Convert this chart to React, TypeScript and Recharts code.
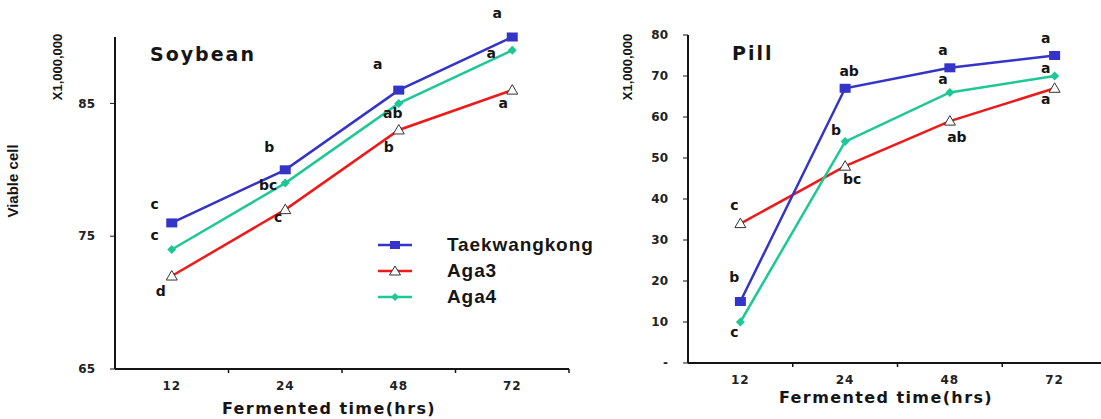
import { LabelList, Legend, Line, LineChart, XAxis, YAxis } from "recharts"

const hours = ["12", "24", "48", "72"]

const soyTaekwangkong = [76, 80, 86, 90]
const soyAga3 = [72, 77, 83, 86]
const soyAga4 = [74, 79, 85, 89]
const soyTaekwangkongSig = ["c", "b", "a", "a"]
const soyAga3Sig = ["d", "c", "b", "a"]
const soyAga4Sig = ["c", "bc", "ab", "a"]
const soyTicks = [65, 75, 85]

const pillTaekwangkong = [15, 67, 72, 75]
const pillAga3 = [34, 48, 59, 67]
const pillAga4 = [10, 54, 66, 70]
const pillTaekwangkongSig = ["b", "ab", "a", "a"]
const pillAga3Sig = ["c", "bc", "ab", "a"]
const pillAga4Sig = ["c", "b", "a", "a"]
const pillTicks = [0, 10, 20, 30, 40, 50, 60, 70, 80]

const seriesNames = ["Taekwangkong", "Aga3", "Aga4"]

const soyData = hours.map((h, i) => ({
  idx: i,
  hour: h,
  taek: soyTaekwangkong[i],
  aga3: soyAga3[i],
  aga4: soyAga4[i],
  taekSig: soyTaekwangkongSig[i],
  aga3Sig: soyAga3Sig[i],
  aga4Sig: soyAga4Sig[i],
}))

const pillData = hours.map((h, i) => ({
  idx: i,
  hour: h,
  taek: pillTaekwangkong[i],
  aga3: pillAga3[i],
  aga4: pillAga4[i],
  taekSig: pillTaekwangkongSig[i],
  aga3Sig: pillAga3Sig[i],
  aga4Sig: pillAga4Sig[i],
}))

// where each significance letter sits relative to its point
const soyOffsets = {
  taek: [[-17, -19], [-16, -23], [-21, -26], [-15, -24]],
  aga3: [[-11, 15], [-7, 7], [-10, 17], [-9, 13]],
  aga4: [[-17, -14], [-17, 2], [-6, 10], [-21, 3]],
}
const pillOffsets = {
  taek: [[-6, -25], [4, -17], [-7, -18], [-9, -18]],
  aga3: [[-6, -19], [7, 13], [7, 16], [-9, 11]],
  aga4: [[-6, 10], [-9, -12], [-7, -13], [-9, -8]],
}

const BLUE = "#3434C8"
const RED = "#F01818"
const GREEN = "#1EC896"
const INK = "#151515"

const halfTicks = [0, 0.5, 1, 1.5, 2, 2.5, 3, 3.5]

const HourTick = (props: any) => {
  const { x, y, payload } = props
  const v = payload.value
  if (Number.isInteger(v)) {
    return (
      <text
        x={x}
        y={y + 21}
        textAnchor="middle"
        fill="#222"
        fontSize={12}
        fontWeight={700}
        fontFamily="DejaVu Sans"
        letterSpacing={1}
      >
        {hours[v]}
      </text>
    )
  }
  return <line x1={x} x2={x} y1={y} y2={y + 4} stroke={INK} strokeWidth={1.5} />
}

const SquareDot = (props: any) => {
  const { cx, cy, index } = props
  return <rect key={index} x={cx - 5.5} y={cy - 4.5} width={11} height={9} fill={BLUE} />
}

const TriangleDot = (props: any) => {
  const { cx, cy, index } = props
  return (
    <polygon
      key={index}
      points={`${cx},${cy - 5.5} ${cx - 5.5},${cy + 4} ${cx + 5.5},${cy + 4}`}
      fill="#fff"
      stroke="#333"
      strokeWidth={1}
    />
  )
}

const DiamondDot = (props: any) => {
  const { cx, cy, index } = props
  return (
    <polygon
      key={index}
      points={`${cx},${cy - 4.5} ${cx + 4.5},${cy} ${cx},${cy + 4.5} ${cx - 4.5},${cy}`}
      fill={GREEN}
    />
  )
}

const sigLabel = (offsets: number[][]) => (props: any) => {
  const { x, y, value, index } = props
  const [dx, dy] = offsets[index]
  return (
    <text
      key={index}
      x={x + dx}
      y={y + dy}
      textAnchor="middle"
      dominantBaseline="central"
      fill={INK}
      fontSize={14}
      fontWeight={700}
      fontFamily="DejaVu Sans"
    >
      {value}
    </text>
  )
}

const LegendBox = () => (
  <div style={{ fontFamily: "Liberation Sans", fontWeight: 700, fontSize: 19, color: INK, letterSpacing: 0.9 }}>
    {seriesNames.map((name, i) => (
      <div key={name} style={{ display: "flex", alignItems: "center", height: 26 }}>
        <svg width={34} height={12} style={{ display: "block" }}>
          <line x1={0} x2={34} y1={6} y2={6} stroke={[BLUE, RED, GREEN][i]} strokeWidth={2.5} />
          {i === 0 && <rect x={12} y={2} width={10} height={8} fill={BLUE} />}
          {i === 1 && <polygon points="17,1 11.5,10 22.5,10" fill="#fff" stroke="#333" strokeWidth={1} />}
          {i === 2 && <polygon points="17,2 21,6 17,10 13,6" fill={GREEN} />}
        </svg>
        <span style={{ marginLeft: 35 }}>{name}</span>
      </div>
    ))}
  </div>
)

const yTick = { fill: "#222", fontSize: 12, fontWeight: 700, fontFamily: "DejaVu Sans" }

export default function App() {
  return (
    <div
      style={{
        position: "absolute",
        left: 0,
        top: 0,
        width: 1101,
        height: 419,
        overflow: "hidden",
        background: "#fff",
      }}
    >
      <div style={{ position: "absolute", left: 0, top: 0 }}>
        <LineChart width={620} height={419} data={soyData} margin={{ top: 37, right: 51, bottom: 20, left: 55 }}>
          <XAxis
            dataKey="idx"
            type="number"
            domain={[-0.5, 3.5]}
            ticks={halfTicks}
            interval={0}
            tick={HourTick}
            tickLine={false}
            tickSize={0}
            tickMargin={0}
            height={30}
            axisLine={{ stroke: INK, strokeWidth: 2 }}
          />
          <YAxis
            type="number"
            domain={[65, 90]}
            ticks={soyTicks}
            interval={0}
            width={60}
            tick={yTick}
            tickSize={5}
            tickMargin={15}
            tickLine={{ stroke: INK }}
            axisLine={{ stroke: INK, strokeWidth: 2 }}
          />
          <Legend
            layout="vertical"
            align="center"
            verticalAlign="middle"
            content={() => <LegendBox />}
            wrapperStyle={{ left: 378, top: 232, width: 240 }}
          />
          <Line dataKey="aga3" stroke={RED} strokeWidth={2.5} dot={TriangleDot} activeDot={false} isAnimationActive={false}>
            <LabelList dataKey="aga3Sig" content={sigLabel(soyOffsets.aga3)} />
          </Line>
          <Line dataKey="aga4" stroke={GREEN} strokeWidth={2.5} dot={DiamondDot} activeDot={false} isAnimationActive={false}>
            <LabelList dataKey="aga4Sig" content={sigLabel(soyOffsets.aga4)} />
          </Line>
          <Line dataKey="taek" stroke={BLUE} strokeWidth={2.5} dot={SquareDot} activeDot={false} isAnimationActive={false}>
            <LabelList dataKey="taekSig" content={sigLabel(soyOffsets.taek)} />
          </Line>
        </LineChart>
      </div>

      <div style={{ position: "absolute", left: 560, top: 0 }}>
        <LineChart width={560} height={419} data={pillData} margin={{ top: 35, right: 13, bottom: 26, left: 68 }}>
          <XAxis
            dataKey="idx"
            type="number"
            domain={[-0.5, 3.5]}
            ticks={halfTicks}
            interval={0}
            tick={HourTick}
            tickLine={false}
            tickSize={0}
            tickMargin={0}
            height={30}
            axisLine={{ stroke: INK, strokeWidth: 2 }}
          />
          <YAxis
            type="number"
            domain={[0, 80]}
            ticks={pillTicks}
            interval={0}
            width={60}
            tick={yTick}
            tickSize={5}
            tickMargin={15}
            tickLine={{ stroke: INK }}
            tickFormatter={(v) => (v === 0 ? "-" : `${v}`)}
            axisLine={{ stroke: INK, strokeWidth: 2 }}
          />
          <Line dataKey="aga3" stroke={RED} strokeWidth={2.5} dot={TriangleDot} activeDot={false} isAnimationActive={false}>
            <LabelList dataKey="aga3Sig" content={sigLabel(pillOffsets.aga3)} />
          </Line>
          <Line dataKey="aga4" stroke={GREEN} strokeWidth={2.5} dot={DiamondDot} activeDot={false} isAnimationActive={false}>
            <LabelList dataKey="aga4Sig" content={sigLabel(pillOffsets.aga4)} />
          </Line>
          <Line dataKey="taek" stroke={BLUE} strokeWidth={2.5} dot={SquareDot} activeDot={false} isAnimationActive={false}>
            <LabelList dataKey="taekSig" content={sigLabel(pillOffsets.taek)} />
          </Line>
        </LineChart>
      </div>

      {/* titles and axis captions */}
      <svg
        width={1101}
        height={419}
        style={{ position: "absolute", left: 0, top: 0, pointerEvents: "none" }}
      >
        <g fill={INK} fontWeight={700}>
          <text x={150} y={61} fontSize={19} fontFamily="DejaVu Sans" letterSpacing={2}>
            Soybean
          </text>
          <text x={732} y={60} fontSize={19} fontFamily="DejaVu Sans" letterSpacing={2}>
            Pill
          </text>
          <text x={329} y={414} textAnchor="middle" fontSize={16} fontFamily="DejaVu Sans" letterSpacing={1.4}>
            Fermented time(hrs)
          </text>
          <text x={886} y={403} textAnchor="middle" fontSize={16} fontFamily="DejaVu Sans" letterSpacing={1.4}>
            Fermented time(hrs)
          </text>
          <text transform="translate(62,67) rotate(-90)" textAnchor="middle" fontSize={13} fontFamily="Liberation Sans">
            X1,000,000
          </text>
          <text transform="translate(632,67) rotate(-90)" textAnchor="middle" fontSize={13} fontFamily="Liberation Sans">
            X1,000,000
          </text>
          <text transform="translate(18,181) rotate(-90)" textAnchor="middle" fontSize={15} fontFamily="Liberation Sans">
            Viable cell
          </text>
        </g>
      </svg>
    </div>
  )
}
